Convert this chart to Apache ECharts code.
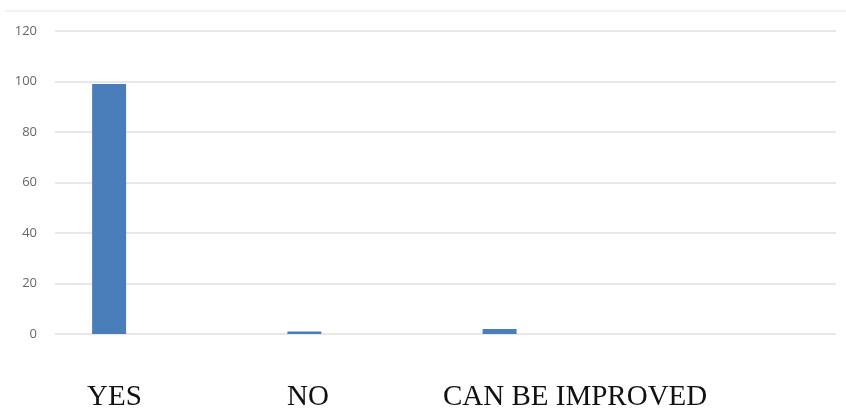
<!DOCTYPE html>
<html>
<head>
<meta charset="utf-8">
<script src="https://cdn.jsdelivr.net/npm/echarts@6/dist/echarts.min.js"></script>
<style>
  html, body { margin: 0; padding: 0; background: #fff; }
  #chart { width: 846px; height: 412px; }
</style>
</head>
<body>
<div id="chart"></div>
<script>
// Survey answers
const categories = ['YES', 'NO', 'CAN BE IMPROVED', ''];
const responses = [99, 1, 2, null];
// Two further series share each category slot but carry no values
const seriesB = [];
const seriesC = [];
const yTicks = { min: 0, max: 120, interval: 20 };
// Captions printed under the plot
const captions = ['YES', 'NO', 'CAN BE IMPROVED'];

const chart = echarts.init(document.getElementById('chart'));

const captionX = [87, 287, 443];

chart.setOption({
  animation: false,
  grid: { left: 55, right: 10, top: 31, bottom: 78, containLabel: false },
  xAxis: {
    type: 'category',
    data: categories,
    boundaryGap: true,
    axisLine: { show: false },
    axisTick: { show: false },
    axisLabel: { show: false }
  },
  yAxis: {
    type: 'value',
    min: yTicks.min,
    max: yTicks.max,
    interval: yTicks.interval,
    axisLine: { show: false },
    axisTick: { show: false },
    axisLabel: {
      color: '#666666',
      fontFamily: 'Open Sans',
      fontSize: 13,
      margin: 18
    },
    splitLine: { lineStyle: { color: '#e0e0e0', width: 1.5 } }
  },
  series: [
    {
      type: 'bar', name: 'A', data: responses,
      barWidth: 34, barGap: '28%',
      itemStyle: { color: '#4a7ebb' }
    },
    { type: 'bar', name: 'B', data: seriesB, barWidth: 34, barGap: '28%' },
    { type: 'bar', name: 'C', data: seriesC, barWidth: 34, barGap: '28%' }
  ],
  graphic: [
    {
      type: 'line',
      shape: { x1: 5, y1: 11, x2: 846, y2: 11 },
      style: { stroke: '#f2f2f2', lineWidth: 2 }
    }
  ].concat(captions.map((t, i) => ({
    type: 'text',
    left: captionX[i],
    top: 383,
    style: {
      text: t,
      fill: '#111',
      font: '29px "Liberation Serif", "Times New Roman", serif'
    }
  })))
});
</script>
</body>
</html>
